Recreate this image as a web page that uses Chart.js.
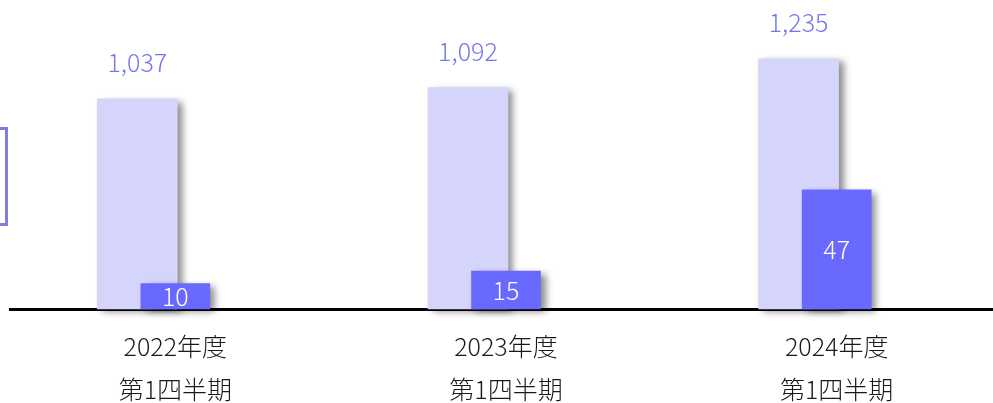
<!DOCTYPE html>
<html>
<head>
<meta charset="utf-8">
<script src="https://cdn.jsdelivr.net/npm/chart.js@4/dist/chart.umd.min.js"></script>
<style>
  html, body { margin: 0; padding: 0; background: #ffffff; overflow: hidden; }
  #wrap { position: relative; width: 1002px; height: 403px; }
</style>
</head>
<body>
<div id="wrap"><canvas id="c"></canvas></div>
<script>
// ---- data ----
const categories = [
  ['2022年度', '第1四半期'],
  ['2023年度', '第1四半期'],
  ['2024年度', '第1四半期']
];
const totalValues = [1037, 1092, 1235];
const subValues = [10, 15, 47];
const totalAxisMax = 1500;
const subAxisMax = 120;

const FONT = '"Noto Sans CJK JP", "Noto Sans", sans-serif';

const barShadow = {
  id: 'barShadow',
  beforeDatasetDraw(chart) {
    const ctx = chart.ctx;
    ctx.save();
    ctx.shadowColor = 'rgba(0,0,0,0.45)';
    ctx.shadowBlur = 7;
    ctx.shadowOffsetX = 5;
    ctx.shadowOffsetY = 3;
  },
  afterDatasetDraw(chart) {
    chart.ctx.restore();
  }
};

const valueLabels = {
  id: 'valueLabels',
  afterDatasetsDraw(chart) {
    const ctx = chart.ctx;
    ctx.save();
    ctx.font = '300 25px ' + FONT;
    ctx.textAlign = 'center';
    ctx.textBaseline = 'middle';
    chart.getDatasetMeta(1).data.forEach((el, i) => {
      ctx.fillStyle = '#7676ef';
      ctx.fillText(totalValues[i].toLocaleString('en-US'), el.x, el.y - 36);
    });
    chart.getDatasetMeta(0).data.forEach((el, i) => {
      ctx.fillStyle = '#ffffff';
      ctx.fillText(String(subValues[i]), el.x, (el.y + el.base) / 2);
    });
    ctx.restore();
  }
};

const sideBox = {
  id: 'sideBox',
  afterDraw(chart) {
    const ctx = chart.ctx;
    ctx.save();
    ctx.strokeStyle = '#8080da';
    ctx.lineWidth = 3;
    ctx.strokeRect(-20, 128.5, 26.5, 96);
    ctx.restore();
  }
};

new Chart(document.getElementById('c'), {
  type: 'bar',
  data: {
    labels: categories,
    datasets: [
      {
        label: 'sub',
        data: subValues,
        xAxisID: 'x',
        yAxisID: 'y2',
        backgroundColor: '#6969ff',
        barThickness: 69,
        grouped: false,
        clip: false
      },
      {
        label: 'total',
        data: totalValues.map((v, i) => ({ x: i, y: v })),
        xAxisID: 'x2',
        yAxisID: 'y',
        backgroundColor: '#d5d5fb',
        barThickness: 80,
        grouped: false,
        clip: false
      }
    ]
  },
  options: {
    responsive: true,
    maintainAspectRatio: false,
    animation: false,
    devicePixelRatio: 1,
    layout: { padding: { left: 10, right: 0, top: 5, bottom: 0 } },
    plugins: { legend: { display: false }, tooltip: { enabled: false } },
    scales: {
      x: {
        type: 'category',
        position: 'bottom',
        z: 1,
        grid: { display: false, drawTicks: false },
        border: { display: true, color: '#000000', width: 3 },
        ticks: {
          color: '#1a1a1a',
          padding: 16,
          maxRotation: 0,
          autoSkip: false,
          font: { family: FONT, size: 25, weight: '300', lineHeight: 1.72 }
        },
        afterFit(scale) { scale.height = 94; }
      },
      x2: {
        type: 'linear',
        display: false,
        offset: false,
        min: -0.5 + 38 / 330,
        max: 2.5 + 38 / 330
      },
      y: { display: false, min: 0, max: totalAxisMax },
      y2: { display: false, min: 0, max: subAxisMax }
    }
  },
  plugins: [barShadow, valueLabels, sideBox]
});
</script>
</body>
</html>
